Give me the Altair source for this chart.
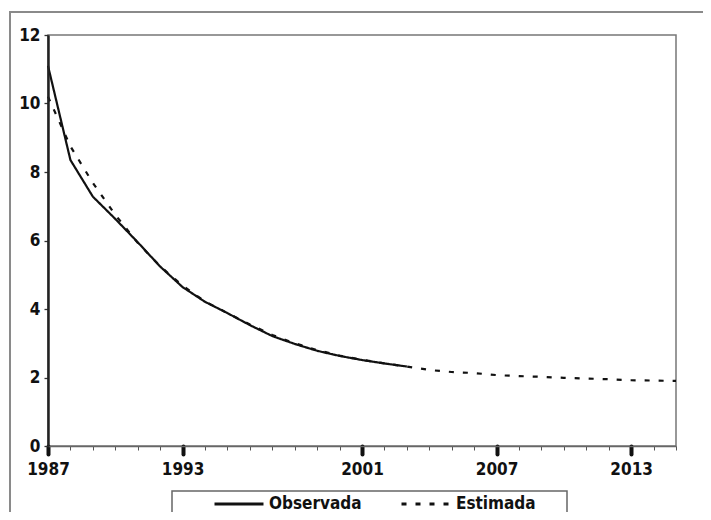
import altair as alt
import pandas as pd

# ---- data ----
years_obs = list(range(1987, 2004))
observada = [11.1, 8.35, 7.28, 6.63, 5.95, 5.24, 4.64, 4.21, 3.88, 3.53,
             3.21, 2.98, 2.78, 2.63, 2.51, 2.41, 2.32]
years_est = list(range(1987, 2016))
estimada = [10.2, 8.75, 7.68, 6.75, 5.93, 5.25, 4.68, 4.22, 3.88, 3.55,
            3.24, 3.0, 2.8, 2.64, 2.52, 2.41, 2.32, 2.22, 2.16, 2.13,
            2.07, 2.04, 2.02, 1.99, 1.97, 1.95, 1.92, 1.91, 1.90]
x_labels = [1987, 1993, 2001, 2007, 2013]
y_ticks = [0, 2, 4, 6, 8, 10, 12]
series = ["Observada", "Estimada"]

df = pd.concat([
    pd.DataFrame({"ano": years_obs, "valor": observada, "serie": series[0]}),
    pd.DataFrame({"ano": years_est, "valor": estimada, "serie": series[1]}),
])
df_est = pd.DataFrame({"ano": years_est, "valor": estimada})

FONT = "DejaVu Sans Condensed"
xscale = alt.Scale(domain=[1987, 2015], nice=False, zero=False)
yscale = alt.Scale(domain=[0, 12], nice=False)
yaxis = alt.Axis(values=y_ticks, tickSize=4, tickColor="#333", tickWidth=1.3,
                 labelPadding=4, labelFont=FONT, labelFontSize=17,
                 labelFontWeight="bold", labelColor="#111",
                 domainColor="#222", domainWidth=2.5, grid=False,
                 title=None, zindex=2)

one = pd.DataFrame({"k": [0]})

outer = alt.Chart(one).mark_rect(fillOpacity=0, stroke="#8a8a8a", strokeWidth=2).encode(
    x=alt.value(-38), x2=alt.value(720), y=alt.value(-23), y2=alt.value(600)
)
legbox = alt.Chart(one).mark_rect(fillOpacity=0, stroke="#666", strokeWidth=1.5).encode(
    x=alt.value(124), x2=alt.value(519), y=alt.value(456), y2=alt.value(600)
)

minor = alt.Chart(df_est).mark_point(opacity=0).encode(
    x=alt.X("ano:Q", scale=xscale,
            axis=alt.Axis(values=years_est, labels=False, tickSize=4, tickWidth=1,
                          tickColor="#555", domain=False, grid=False, title=None,
                          orient="bottom", zindex=1)),
    y=alt.Y("valor:Q", scale=yscale, axis=yaxis),
)

lines = alt.Chart(df).mark_line(strokeWidth=2.2).encode(
    x=alt.X("ano:Q", scale=xscale,
            axis=alt.Axis(values=x_labels, format="d", tickSize=8, tickWidth=4,
                          tickCap="round", tickColor="#111", labelPadding=7,
                          labelFont=FONT, labelFontSize=17, labelFontWeight="bold",
                          labelColor="#111", domainColor="#666", domainWidth=1.5,
                          grid=False, title=None, orient="bottom", labelFlush=False,
                          labelOverlap=False, zindex=2)),
    y=alt.Y("valor:Q", scale=yscale, axis=yaxis),
    color=alt.Color("serie:N", scale=alt.Scale(domain=series, range=["#111", "#111"]),
                    legend=alt.Legend(title=None)),
    strokeDash=alt.StrokeDash("serie:N", scale=alt.Scale(domain=series, range=[[1, 0], [5, 9]]),
                              legend=alt.Legend(title=None)),
    detail="serie:N",
)

chart = alt.layer(outer, legbox, minor, lines).resolve_axis(x="independent").properties(
    width=628, height=411,
    autosize=alt.AutoSizeParams(type="none"),
    padding={"left": 40, "top": 27, "right": 27, "bottom": 66},
).configure_view(stroke="#777", strokeWidth=1.5).configure_legend(
    orient="none", legendX=165, legendY=443, direction="horizontal",
    symbolType="stroke", symbolSize=2400, symbolStrokeWidth=3,
    labelFont=FONT, labelFontSize=17, labelFontWeight="bold", labelColor="#111",
    columnPadding=33, labelOffset=4, padding=0,
)

chart.save("out.html", embed_options={"renderer": "svg", "actions": False})
